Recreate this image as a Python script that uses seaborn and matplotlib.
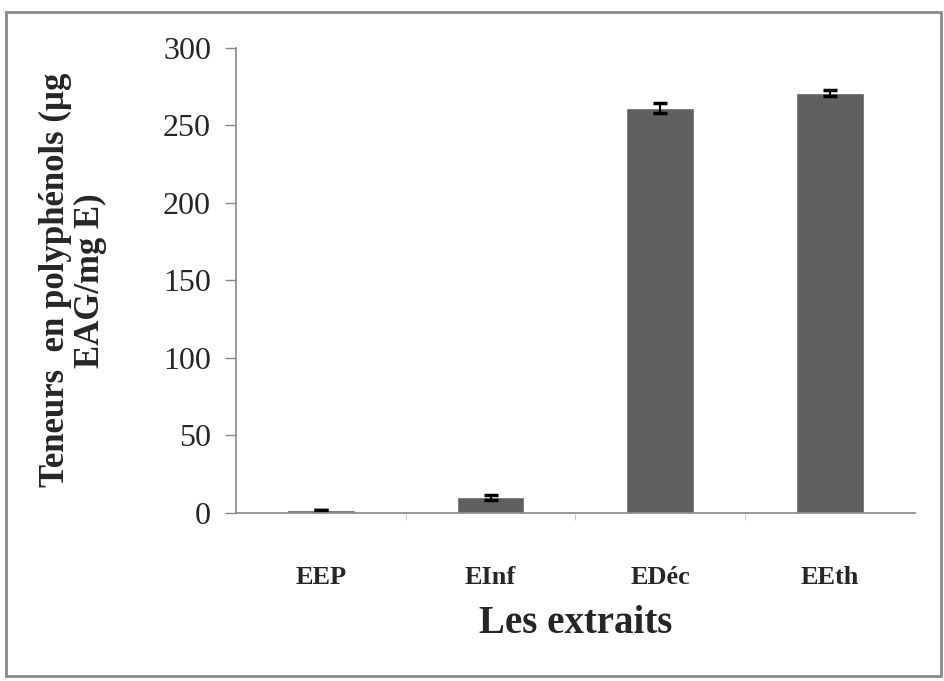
import matplotlib
matplotlib.use("Agg")
import matplotlib.pyplot as plt
from matplotlib.patches import Rectangle
import seaborn as sns
import pandas as pd
import numpy as np

# values
extraits = ["EEP", "EInf", "EDéc", "EEth"]
teneurs = [1.5, 10.0, 261.0, 271.0]
erreurs = [0.0, 1.5, 3.0, 2.0]

df = pd.DataFrame({"extrait": extraits, "teneur": teneurs})

sns.set_style("white")
plt.rcParams["font.family"] = ["Liberation Serif", "DejaVu Serif"]

fig = plt.figure(figsize=(9.44, 6.81), dpi=100)
ax = fig.add_axes([0.25, 0.247, 0.719, 0.683])

sns.barplot(data=df, x="extrait", y="teneur", color="#5f5f5f", width=0.4,
            saturation=1, errorbar=None, ax=ax)
ax.errorbar(np.arange(len(extraits)), teneurs, yerr=erreurs, fmt="none",
            ecolor="black", elinewidth=1.5, capsize=5, capthick=2.5)

ax.set_ylim(0, 300)
ax.set_xlim(-0.5, 3.5)
ax.set_yticks(range(0, 301, 50))
ax.tick_params(axis="y", labelsize=23, length=8, width=1, color="#888888",
               direction="out", pad=10, left=True)
ax.tick_params(axis="x", labelsize=19, length=0, pad=38)
for lab in ax.get_xticklabels():
    lab.set_fontweight("bold")
ax.set_xticks([0.5, 1.5, 2.5], minor=True)
ax.tick_params(axis="x", which="minor", length=5, color="#bbbbbb", bottom=True)

for s in ["top", "right"]:
    ax.spines[s].set_visible(False)
for s in ["left", "bottom"]:
    ax.spines[s].set_color("#888888")
    ax.spines[s].set_linewidth(1.2)

ax.set_xlabel("Les extraits", fontsize=28, fontweight="bold", labelpad=12)
ax.set_ylabel("Teneurs  en polyphénols (µg\nEAG/mg E)", fontsize=25,
              fontweight="bold", labelpad=40, linespacing=1.1)

# grey frame around the whole chart
fig.patches.append(Rectangle((6 / 944, 5 / 681), 935 / 944, 664 / 681,
                             transform=fig.transFigure, fill=False,
                             edgecolor="#8a8a8a", linewidth=2))

fig.savefig("out.png", dpi=100)
